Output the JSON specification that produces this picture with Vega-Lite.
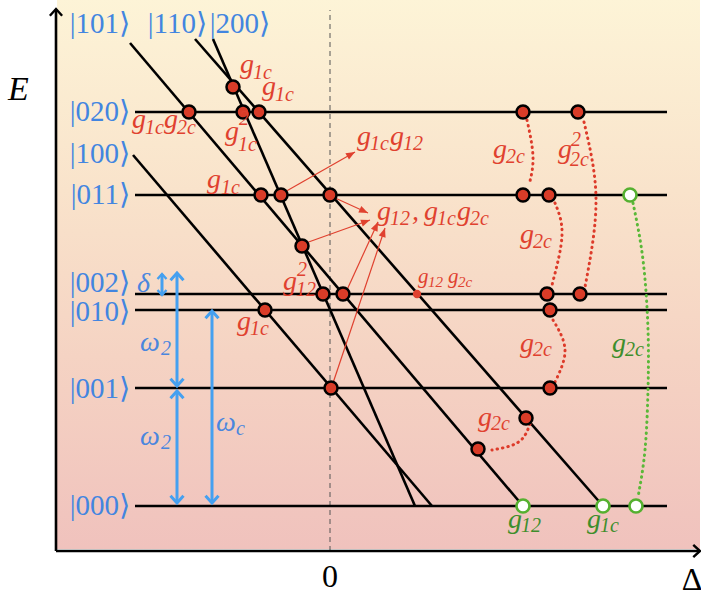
{
  "$schema": "https://vega.github.io/schema/vega-lite/v6.json",
  "width": 701,
  "height": 592,
  "autosize": "none",
  "padding": 0,
  "background": "white",
  "config": {"view": {"stroke": null}},
  "datasets": {
    "segs": [
      {"x": -195, "y": 439, "x2": 337, "y2": 439},
      {"x": -195, "y": 356, "x2": 337, "y2": 356},
      {"x": -195, "y": 257, "x2": 337, "y2": 257},
      {"x": -195, "y": 241, "x2": 337, "y2": 241},
      {"x": -195, "y": 163, "x2": 337, "y2": 163},
      {"x": -195, "y": 45, "x2": 337, "y2": 45},
      {"x": -200, "y": 508, "x2": 193, "y2": 45},
      {"x": -135, "y": 512, "x2": 273, "y2": 45},
      {"x": -117, "y": 512, "x2": 85, "y2": 45},
      {"x": -197, "y": 396, "x2": 102, "y2": 45},
      {"x": -274, "y": 0, "x2": -274, "y2": 541},
      {"x": -274, "y": 0, "x2": 369, "y2": 0}
    ],
    "dash": [{"x": 0, "y": 0, "x2": 0, "y2": 541}],
    "bshaft": [
      {"x": -168, "y": 256, "x2": -168, "y2": 277},
      {"x": -153, "y": 165, "x2": -153, "y2": 278},
      {"x": -153, "y": 48, "x2": -153, "y2": 160},
      {"x": -118, "y": 48, "x2": -118, "y2": 240}
    ],
    "bheads": [
      {"x": -153, "y": 278, "dir": "up"},
      {"x": -153, "y": 165, "dir": "down"},
      {"x": -153, "y": 160, "dir": "up"},
      {"x": -153, "y": 48, "dir": "down"},
      {"x": -118, "y": 240, "dir": "up"},
      {"x": -118, "y": 48, "dir": "down"}
    ],
    "sheads": [
      {"x": -168, "y": 277, "dir": "up"},
      {"x": -168, "y": 256, "dir": "down"}
    ],
    "aheads": [
      {"x": -274, "y": 542, "dir": "up"},
      {"x": 370, "y": 0, "dir": "right"}
    ],
    "arrows": [
      {"x": -47, "y": 358, "x2": 25, "y2": 399},
      {"x": 3, "y": 354, "x2": 38, "y2": 338},
      {"x": -27, "y": 307, "x2": 40, "y2": 331},
      {"x": 16, "y": 259, "x2": 48, "y2": 329},
      {"x": 2, "y": 165, "x2": 55, "y2": 323}
    ],
    "curves": [
      {"c": "a", "i": 0, "x": 197, "y": 431},
      {"c": "a", "i": 1, "x": 203, "y": 394},
      {"c": "a", "i": 2, "x": 199, "y": 366},
      {"c": "b", "i": 0, "x": 254, "y": 429},
      {"c": "b", "i": 1, "x": 266, "y": 351},
      {"c": "b", "i": 2, "x": 255, "y": 264},
      {"c": "d", "i": 0, "x": 225, "y": 348},
      {"c": "d", "i": 1, "x": 232, "y": 316},
      {"c": "d", "i": 2, "x": 222, "y": 266},
      {"c": "e", "i": 0, "x": 223, "y": 231},
      {"c": "e", "i": 1, "x": 235, "y": 201},
      {"c": "e", "i": 2, "x": 225, "y": 169},
      {"c": "f", "i": 0, "x": 200, "y": 127},
      {"c": "f", "i": 1, "x": 193, "y": 113},
      {"c": "f", "i": 2, "x": 180, "y": 105},
      {"c": "f", "i": 3, "x": 162, "y": 101}
    ],
    "gcurve": [
      {"c": "g", "i": 0, "x": 303, "y": 348},
      {"c": "g", "i": 1, "x": 313, "y": 291},
      {"c": "g", "i": 2, "x": 318, "y": 221},
      {"c": "g", "i": 3, "x": 318, "y": 161},
      {"c": "g", "i": 4, "x": 315, "y": 101},
      {"c": "g", "i": 5, "x": 308, "y": 54}
    ],
    "dots": [
      {"x": -97, "y": 464}, {"x": -141, "y": 439}, {"x": -87, "y": 439}, {"x": -71, "y": 439},
      {"x": 193, "y": 439}, {"x": 248, "y": 439},
      {"x": -69, "y": 356}, {"x": -49, "y": 356}, {"x": 0, "y": 356}, {"x": 193, "y": 356}, {"x": 219, "y": 356},
      {"x": -28, "y": 305},
      {"x": -7, "y": 257}, {"x": 13, "y": 257}, {"x": 217, "y": 257}, {"x": 250, "y": 257},
      {"x": -65, "y": 241}, {"x": 220, "y": 241},
      {"x": 1, "y": 163}, {"x": 220, "y": 163},
      {"x": 196, "y": 133}, {"x": 148, "y": 102}
    ],
    "gdots": [
      {"x": 300, "y": 356}, {"x": 193, "y": 45}, {"x": 273, "y": 45}, {"x": 306, "y": 45}
    ],
    "sdot": [{"x": 87, "y": 257}],
    "labels": [
      {"t": "g", "x": -90, "y": 478, "role": "main", "grp": "coupling"},
      {"t": "1c", "x": -77, "y": 472, "role": "sub", "grp": "coupling"},
      {"t": "g", "x": -68, "y": 456, "role": "main", "grp": "coupling"},
      {"t": "1c", "x": -55, "y": 450, "role": "sub", "grp": "coupling"},
      {"t": "g", "x": -198, "y": 423, "role": "main", "grp": "coupling"},
      {"t": "1c", "x": -185, "y": 417, "role": "sub", "grp": "coupling"},
      {"t": "g", "x": -166, "y": 423, "role": "main", "grp": "coupling"},
      {"t": "2c", "x": -153, "y": 417, "role": "sub", "grp": "coupling"},
      {"t": "g", "x": -105, "y": 411, "role": "main", "grp": "coupling"},
      {"t": "2", "x": -91, "y": 426, "role": "sub", "grp": "coupling"},
      {"t": "1c", "x": -92, "y": 400, "role": "sub", "grp": "coupling"},
      {"t": "g", "x": -123, "y": 363, "role": "main", "grp": "coupling"},
      {"t": "1c", "x": -109, "y": 357, "role": "sub", "grp": "coupling"},
      {"t": "g", "x": 27, "y": 406, "role": "main", "grp": "coupling"},
      {"t": "1c", "x": 40, "y": 401, "role": "sub", "grp": "coupling"},
      {"t": "g", "x": 60, "y": 406, "role": "main", "grp": "coupling"},
      {"t": "12", "x": 73, "y": 401, "role": "sub", "grp": "coupling"},
      {"t": "g", "x": 47, "y": 331, "role": "main", "grp": "coupling"},
      {"t": "12", "x": 60, "y": 326, "role": "sub", "grp": "coupling"},
      {"t": ",", "x": 82, "y": 331, "role": "main", "grp": "coupling"},
      {"t": "g", "x": 94, "y": 331, "role": "main", "grp": "coupling"},
      {"t": "1c", "x": 107, "y": 326, "role": "sub", "grp": "coupling"},
      {"t": "g", "x": 127, "y": 331, "role": "main", "grp": "coupling"},
      {"t": "2c", "x": 140, "y": 326, "role": "sub", "grp": "coupling"},
      {"t": "g", "x": -47, "y": 261, "role": "main", "grp": "coupling"},
      {"t": "2", "x": -33, "y": 275, "role": "sub", "grp": "coupling"},
      {"t": "12", "x": -34, "y": 255, "role": "sub", "grp": "coupling"},
      {"t": "g", "x": 88, "y": 268, "role": "smain", "grp": "coupling"},
      {"t": "12", "x": 98, "y": 264, "role": "ssub", "grp": "coupling"},
      {"t": "g", "x": 118, "y": 268, "role": "smain", "grp": "coupling"},
      {"t": "2c", "x": 128, "y": 264, "role": "ssub", "grp": "coupling"},
      {"t": "g", "x": -93, "y": 221, "role": "main", "grp": "coupling"},
      {"t": "1c", "x": -80, "y": 216, "role": "sub", "grp": "coupling"},
      {"t": "g", "x": 163, "y": 393, "role": "main", "grp": "coupling"},
      {"t": "2c", "x": 176, "y": 388, "role": "sub", "grp": "coupling"},
      {"t": "g", "x": 228, "y": 393, "role": "main", "grp": "coupling"},
      {"t": "2", "x": 241, "y": 405, "role": "sub", "grp": "coupling"},
      {"t": "2c", "x": 240, "y": 385, "role": "sub", "grp": "coupling"},
      {"t": "g", "x": 190, "y": 308, "role": "main", "grp": "coupling"},
      {"t": "2c", "x": 203, "y": 303, "role": "sub", "grp": "coupling"},
      {"t": "g", "x": 190, "y": 199, "role": "main", "grp": "coupling"},
      {"t": "2c", "x": 203, "y": 195, "role": "sub", "grp": "coupling"},
      {"t": "g", "x": 148, "y": 125, "role": "main", "grp": "coupling"},
      {"t": "2c", "x": 161, "y": 121, "role": "sub", "grp": "coupling"},
      {"t": "g", "x": 282, "y": 199, "role": "main", "grp": "ground"},
      {"t": "2c", "x": 295, "y": 195, "role": "sub", "grp": "ground"},
      {"t": "g", "x": 178, "y": 23, "role": "main", "grp": "ground"},
      {"t": "12", "x": 191, "y": 19, "role": "sub", "grp": "ground"},
      {"t": "g", "x": 257, "y": 23, "role": "main", "grp": "ground"},
      {"t": "1c", "x": 270, "y": 19, "role": "sub", "grp": "ground"},
      {"t": "δ", "x": -193, "y": 259, "role": "main", "grp": "freq"},
      {"t": "ω", "x": -190, "y": 200, "role": "main", "grp": "freq"},
      {"t": "2", "x": -169, "y": 196, "role": "sub", "grp": "freq"},
      {"t": "ω", "x": -190, "y": 106, "role": "main", "grp": "freq"},
      {"t": "2", "x": -169, "y": 102, "role": "sub", "grp": "freq"},
      {"t": "ω", "x": -114, "y": 120, "role": "main", "grp": "freq"},
      {"t": "c", "x": -94, "y": 116, "role": "sub", "grp": "freq"},
      {"t": "E", "x": -322, "y": 451, "role": "big", "grp": "axis"}
    ],
    "kets": [
      {"t": "|101⟩", "x": -200, "y": 527},
      {"t": "|110⟩", "x": -123, "y": 527},
      {"t": "|200⟩", "x": -60, "y": 527},
      {"t": "|020⟩", "x": -200, "y": 439},
      {"t": "|100⟩", "x": -200, "y": 397},
      {"t": "|011⟩", "x": -200, "y": 356},
      {"t": "|002⟩", "x": -200, "y": 268},
      {"t": "|010⟩", "x": -200, "y": 239},
      {"t": "|001⟩", "x": -200, "y": 162},
      {"t": "|000⟩", "x": -200, "y": 45}
    ],
    "ticks": [
      {"t": "0", "x": 0, "y": -36},
      {"t": "Δ", "x": 362, "y": -39}
    ]
  },
  "encoding": {
    "x": {"field": "x", "type": "quantitative", "scale": {"domain": [-330, 371], "nice": false, "zero": false}, "axis": null},
    "y": {"field": "y", "type": "quantitative", "scale": {"domain": [-41, 551], "nice": false, "zero": false}, "axis": null}
  },
  "layer": [
    {
      "data": {"values": [{"x": -273, "y": 2, "x2": 370, "y2": 553}]},
      "mark": {"type": "rect", "fill": {"gradient": "linear", "x1": 0, "y1": 0, "x2": 0, "y2": 1, "stops": [
        {"offset": 0, "color": "#fdf4d7"},
        {"offset": 0.35, "color": "#f9e3cb"},
        {"offset": 0.65, "color": "#f5d3c3"},
        {"offset": 1, "color": "#f0c2bd"}]}},
      "encoding": {"x2": {"field": "x2"}, "y2": {"field": "y2"}}
    },
    {
      "data": {"name": "dash"},
      "mark": {"type": "rule", "stroke": "#555555", "strokeWidth": 1, "strokeDash": [5, 4]},
      "encoding": {"x2": {"field": "x2"}, "y2": {"field": "y2"}}
    },
    {
      "data": {"name": "segs"},
      "mark": {"type": "rule", "stroke": "black", "strokeWidth": 2.6},
      "encoding": {"x2": {"field": "x2"}, "y2": {"field": "y2"}}
    },
    {
      "data": {"name": "aheads"},
      "mark": {"type": "point", "filled": false, "stroke": "black", "strokeWidth": 2.4, "size": 150, "opacity": 1},
      "encoding": {"shape": {"field": "dir", "type": "nominal", "scale": {"domain": ["up", "down", "right"], "range": ["M-1,1.1L0,0L1,1.1", "M-1,-1.1L0,0L1,-1.1", "M-1.1,-1L0,0L-1.1,1"]}, "legend": null}}
    },
    {
      "data": {"name": "bshaft"},
      "mark": {"type": "rule", "stroke": "#45a0f0", "strokeWidth": 3},
      "encoding": {"x2": {"field": "x2"}, "y2": {"field": "y2"}}
    },
    {
      "data": {"name": "bheads"},
      "mark": {"type": "point", "filled": false, "stroke": "#45a0f0", "strokeWidth": 3, "size": 169, "opacity": 1},
      "encoding": {"shape": {"field": "dir", "type": "nominal", "scale": {"domain": ["up", "down", "right"], "range": ["M-1,1.1L0,0L1,1.1", "M-1,-1.1L0,0L1,-1.1", "M-1.1,-1L0,0L-1.1,1"]}, "legend": null}}
    },
    {
      "data": {"name": "sheads"},
      "mark": {"type": "point", "filled": false, "stroke": "#45a0f0", "strokeWidth": 2.4, "size": 81, "opacity": 1},
      "encoding": {"shape": {"field": "dir", "type": "nominal", "scale": {"domain": ["up", "down", "right"], "range": ["M-1,1.1L0,0L1,1.1", "M-1,-1.1L0,0L1,-1.1", "M-1.1,-1L0,0L-1.1,1"]}, "legend": null}}
    },
    {
      "data": {"name": "arrows"},
      "mark": {"type": "rule", "stroke": "#e0412f", "strokeWidth": 1.2},
      "encoding": {"x2": {"field": "x2"}, "y2": {"field": "y2"}}
    },
    {
      "data": {"name": "arrows"},
      "transform": [{"calculate": "(atan2(datum.x2 - datum.x, datum.y2 - datum.y) * 180 / PI + 360) % 360", "as": "ang"}],
      "mark": {"type": "point", "shape": "M0,0L-0.4,1L0.4,1Z", "filled": true, "fill": "#e0412f", "size": 324, "opacity": 1},
      "encoding": {
        "x": {"field": "x2", "type": "quantitative"},
        "y": {"field": "y2", "type": "quantitative"},
        "angle": {"field": "ang", "type": "quantitative", "scale": null}
      }
    },
    {
      "data": {"name": "curves"},
      "mark": {"type": "line", "interpolate": "natural", "stroke": "#dd3b2a", "strokeWidth": 3, "strokeDash": [0.5, 5], "strokeCap": "round"},
      "encoding": {"detail": {"field": "c"}, "order": {"field": "i", "type": "quantitative"}}
    },
    {
      "data": {"name": "gcurve"},
      "mark": {"type": "line", "interpolate": "natural", "stroke": "#5ab838", "strokeWidth": 3, "strokeDash": [0.5, 5], "strokeCap": "round"},
      "encoding": {"detail": {"field": "c"}, "order": {"field": "i", "type": "quantitative"}}
    },
    {
      "data": {"name": "dots"},
      "mark": {"type": "circle", "fill": "#d93c28", "stroke": "black", "strokeWidth": 2.5, "size": 169, "opacity": 1}
    },
    {
      "data": {"name": "gdots"},
      "mark": {"type": "circle", "fill": "white", "stroke": "#55b030", "strokeWidth": 2.6, "size": 169, "opacity": 1}
    },
    {
      "data": {"name": "sdot"},
      "mark": {"type": "circle", "fill": "#e0412f", "size": 70, "opacity": 1}
    },
    {
      "data": {"name": "labels"},
      "transform": [{"filter": "datum.role == 'main'"}],
      "mark": {"type": "text", "font": "Liberation Serif", "fontStyle": "italic", "fontSize": 28, "align": "left", "baseline": "alphabetic"},
      "encoding": {
        "text": {"field": "t"},
        "color": {"field": "grp", "type": "nominal", "scale": {"domain": ["coupling", "ground", "freq", "axis"], "range": ["#e0412f", "#3e8e2c", "#4a86de", "#000000"]}, "legend": null}
      }
    },
    {
      "data": {"name": "labels"},
      "transform": [{"filter": "datum.role == 'sub'"}],
      "mark": {"type": "text", "font": "Liberation Serif", "fontStyle": "italic", "fontSize": 20, "align": "left", "baseline": "alphabetic"},
      "encoding": {
        "text": {"field": "t"},
        "color": {"field": "grp", "type": "nominal", "scale": {"domain": ["coupling", "ground", "freq", "axis"], "range": ["#e0412f", "#3e8e2c", "#4a86de", "#000000"]}, "legend": null}
      }
    },
    {
      "data": {"name": "labels"},
      "transform": [{"filter": "datum.role == 'smain'"}],
      "mark": {"type": "text", "font": "Liberation Serif", "fontStyle": "italic", "fontSize": 21, "align": "left", "baseline": "alphabetic"},
      "encoding": {
        "text": {"field": "t"},
        "color": {"field": "grp", "type": "nominal", "scale": {"domain": ["coupling", "ground", "freq", "axis"], "range": ["#e0412f", "#3e8e2c", "#4a86de", "#000000"]}, "legend": null}
      }
    },
    {
      "data": {"name": "labels"},
      "transform": [{"filter": "datum.role == 'ssub'"}],
      "mark": {"type": "text", "font": "Liberation Serif", "fontStyle": "italic", "fontSize": 15, "align": "left", "baseline": "alphabetic"},
      "encoding": {
        "text": {"field": "t"},
        "color": {"field": "grp", "type": "nominal", "scale": {"domain": ["coupling", "ground", "freq", "axis"], "range": ["#e0412f", "#3e8e2c", "#4a86de", "#000000"]}, "legend": null}
      }
    },
    {
      "data": {"name": "labels"},
      "transform": [{"filter": "datum.role == 'big'"}],
      "mark": {"type": "text", "font": "Liberation Serif", "fontStyle": "italic", "fontSize": 34, "align": "left", "baseline": "alphabetic"},
      "encoding": {
        "text": {"field": "t"},
        "color": {"field": "grp", "type": "nominal", "scale": {"domain": ["coupling", "ground", "freq", "axis"], "range": ["#e0412f", "#3e8e2c", "#4a86de", "#000000"]}, "legend": null}
      }
    },
    {
      "data": {"name": "kets"},
      "mark": {"type": "text", "font": "Liberation Serif", "fontSize": 29, "align": "right", "baseline": "middle", "fill": "#4285e0"},
      "encoding": {"text": {"field": "t"}}
    },
    {
      "data": {"name": "ticks"},
      "mark": {"type": "text", "font": "Liberation Serif", "fontSize": 32, "align": "center", "baseline": "alphabetic", "fill": "black"},
      "encoding": {"text": {"field": "t"}}
    }
  ]
}
